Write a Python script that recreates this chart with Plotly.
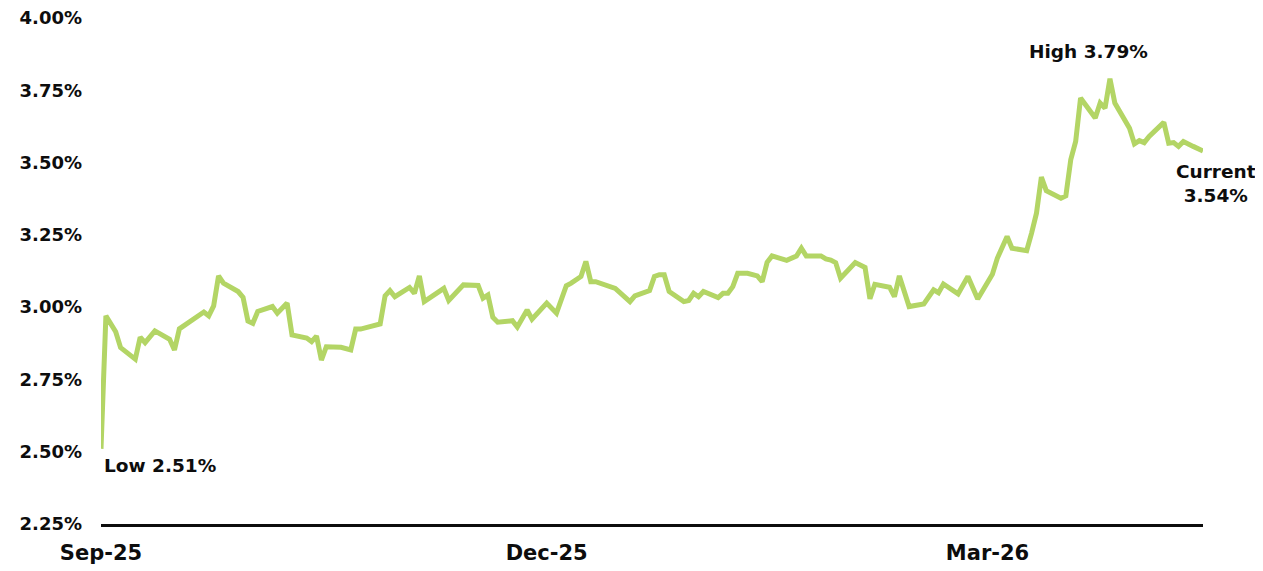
import plotly.graph_objects as go

dates = [
    "2025-09-01", "2025-09-02", "2025-09-04", "2025-09-05", "2025-09-08", "2025-09-09", "2025-09-10",
    "2025-09-12", "2025-09-15", "2025-09-16", "2025-09-17", "2025-09-18", "2025-09-22", "2025-09-23",
    "2025-09-24", "2025-09-25", "2025-09-26", "2025-09-29", "2025-09-30", "2025-10-01", "2025-10-02",
    "2025-10-03", "2025-10-06", "2025-10-07", "2025-10-09", "2025-10-10", "2025-10-13", "2025-10-14",
    "2025-10-15", "2025-10-16", "2025-10-17", "2025-10-20", "2025-10-22", "2025-10-23", "2025-10-24",
    "2025-10-28", "2025-10-29", "2025-10-30", "2025-10-31", "2025-11-03", "2025-11-04", "2025-11-05",
    "2025-11-06", "2025-11-10", "2025-11-11", "2025-11-14", "2025-11-17", "2025-11-18", "2025-11-19",
    "2025-11-20", "2025-11-21", "2025-11-24", "2025-11-25", "2025-11-27", "2025-11-28", "2025-12-01",
    "2025-12-03", "2025-12-05", "2025-12-06", "2025-12-08", "2025-12-09", "2025-12-10", "2025-12-11",
    "2025-12-15", "2025-12-18", "2025-12-19", "2025-12-22", "2025-12-23", "2025-12-24", "2025-12-25",
    "2025-12-26", "2025-12-29", "2025-12-30", "2025-12-31", "2026-01-01", "2026-01-02", "2026-01-05",
    "2026-01-06", "2026-01-07", "2026-01-08", "2026-01-09", "2026-01-11", "2026-01-13", "2026-01-14",
    "2026-01-15", "2026-01-16", "2026-01-19", "2026-01-21", "2026-01-22", "2026-01-23", "2026-01-26",
    "2026-01-27", "2026-01-28", "2026-01-29", "2026-01-30", "2026-02-02", "2026-02-04", "2026-02-05",
    "2026-02-06", "2026-02-09", "2026-02-10", "2026-02-11", "2026-02-13", "2026-02-16", "2026-02-18",
    "2026-02-19", "2026-02-20", "2026-02-23", "2026-02-25", "2026-02-27", "2026-03-02", "2026-03-03",
    "2026-03-05", "2026-03-06", "2026-03-09", "2026-03-10", "2026-03-11", "2026-03-12", "2026-03-13",
    "2026-03-16", "2026-03-17", "2026-03-18", "2026-03-19", "2026-03-20", "2026-03-23", "2026-03-24",
    "2026-03-25", "2026-03-26", "2026-03-27", "2026-03-30", "2026-03-31", "2026-04-01", "2026-04-02",
    "2026-04-03", "2026-04-06", "2026-04-07", "2026-04-08", "2026-04-09", "2026-04-10", "2026-04-12",
    "2026-04-14",
]

yields = [
    2.51, 2.97, 2.915, 2.86, 2.82, 2.896, 2.877,
    2.918, 2.889, 2.852, 2.925, 2.936, 2.983, 2.97,
    3.004, 3.108, 3.083, 3.054, 3.034, 2.952, 2.944,
    2.985, 3.002, 2.979, 3.014, 2.904, 2.893, 2.881,
    2.90, 2.817, 2.863, 2.861, 2.852, 2.924, 2.924,
    2.942, 3.039, 3.057, 3.036, 3.068, 3.048, 3.108,
    3.019, 3.065, 3.023, 3.077, 3.075, 3.031, 3.042,
    2.965, 2.948, 2.953, 2.931, 2.990, 2.958, 3.014,
    2.979, 3.074, 3.083, 3.106, 3.158, 3.088, 3.088,
    3.065, 3.019, 3.039, 3.057, 3.106, 3.112, 3.112,
    3.054, 3.019, 3.023, 3.048, 3.036, 3.054, 3.033,
    3.048, 3.048, 3.071, 3.117, 3.117, 3.108, 3.088,
    3.155, 3.177, 3.162, 3.177, 3.204, 3.177, 3.177,
    3.167, 3.163, 3.154, 3.100, 3.154, 3.137, 3.029,
    3.079, 3.069, 3.036, 3.108, 3.002, 3.011, 3.060,
    3.050, 3.080, 3.046, 3.106, 3.028, 3.114, 3.169,
    3.244, 3.204, 3.195, 3.256, 3.325, 3.450, 3.403,
    3.377, 3.385, 3.510, 3.573, 3.723, 3.654, 3.706,
    3.688, 3.790, 3.706, 3.619, 3.565, 3.576, 3.569,
    3.590, 3.639, 3.567, 3.569, 3.556, 3.573, 3.556,
    3.54,
]

x_tick_vals = ["2025-09-01", "2025-12-01", "2026-03-01"]
x_tick_text = ["Sep-25", "Dec-25", "Mar-26"]
y_tick_vals = [2.25, 2.50, 2.75, 3.00, 3.25, 3.50, 3.75, 4.00]
y_tick_text = ["2.25%", "2.50%", "2.75%", "3.00%", "3.25%", "3.50%", "3.75%", "4.00%"]

low_label = "Low 2.51%"
high_label = "High 3.79%"
current_label = "Current<br>3.54%"

FONT = "DejaVu Sans"
GREEN = "#b3d565"
INK = "#0d0d0d"

fig = go.Figure()
fig.add_trace(go.Scatter(
    x=dates, y=yields, mode="lines",
    line=dict(color=GREEN, width=5),
    hoverinfo="skip", showlegend=False,
))

i_low = yields.index(min(yields))
i_high = yields.index(max(yields))
i_cur = len(yields) - 1

ann_font = dict(family=FONT, size=18.5, color=INK, weight="bold")
fig.add_annotation(x=dates[i_low], y=yields[i_low], text=low_label, showarrow=False,
                   xanchor="left", yanchor="middle", xshift=1, yshift=-17, font=ann_font)
fig.add_annotation(x=dates[i_high], y=yields[i_high], text=high_label, showarrow=False,
                   xanchor="center", yanchor="middle", xshift=-21, yshift=27, font=ann_font)
fig.add_annotation(x=dates[i_cur], y=yields[i_cur], text=current_label, showarrow=False,
                   xanchor="center", yanchor="middle", xshift=13, yshift=-32, font=ann_font)

# The page body adds an 8px offset, so the figure is sized/margined to compensate.
fig.update_layout(
    width=1255, height=563,
    margin=dict(l=93, r=60, t=10, b=47, autoexpand=False),
    paper_bgcolor="white", plot_bgcolor="white",
    font=dict(family=FONT, color=INK),
    xaxis=dict(
        type="date", range=["2025-09-01", "2026-04-14"], automargin=False,
        tickvals=x_tick_vals, ticktext=x_tick_text,
        tickfont=dict(family=FONT, size=21, color=INK, weight="bold"),
        showgrid=False, zeroline=False,
        showline=True, linecolor=INK, linewidth=3,
        ticks="", ticklabelstandoff=8, ticklabeloverflow="allow",
    ),
    yaxis=dict(
        range=[2.25, 4.0], automargin=False,
        tickvals=y_tick_vals, ticktext=y_tick_text,
        tickfont=dict(family=FONT, size=18, color=INK, weight="bold"),
        showgrid=False, zeroline=False, showline=False,
        ticks="", ticklabelstandoff=18, ticklabeloverflow="allow",
    ),
)

fig.write_html("out.html")
